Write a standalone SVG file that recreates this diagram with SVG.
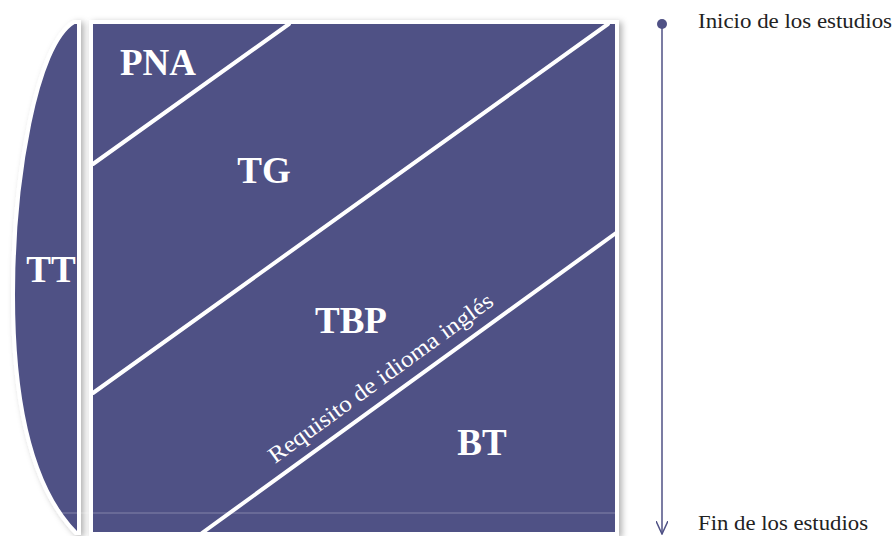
<svg xmlns="http://www.w3.org/2000/svg" width="895" height="536" viewBox="0 0 895 536">
  <style>
    .fill { fill: #4F5185; stroke: #ffffff; stroke-width: 4; }
    .div { stroke: #ffffff; stroke-width: 4; stroke-linecap: round; fill: none; }
    .lbl { font-family: "Liberation Serif", "Times New Roman", serif; font-weight: bold; fill: #ffffff; font-size: 37px; }
    .note { font-family: "Liberation Serif", "Times New Roman", serif; fill: #222222; font-size: 21px; }
    .req { font-family: "Liberation Serif", "Times New Roman", serif; fill: #ffffff; font-size: 23px; }
    .tl { stroke: #4F5185; stroke-width: 1.5; fill: none; }
  </style>
  <defs>
    <filter id="sh" x="-10%" y="-10%" width="125%" height="125%">
      <feDropShadow dx="3" dy="2" stdDeviation="3" flood-color="#000000" flood-opacity="0.3"/>
    </filter>
    <marker id="arr" viewBox="0 0 14 12" refX="13" refY="6" markerWidth="14" markerHeight="12" markerUnits="userSpaceOnUse" orient="auto">
      <path d="M0,0 L13,6 L0,12" fill="none" stroke="#4F5185" stroke-width="1.5"/>
    </marker>
  </defs>

  <g id="tt">
    <path class="fill" filter="url(#sh)" d="M79,22 L74,22 C 36,44 13,180 13,295 C 13,410 34,490 76,533 L79,533 Z"/>
    <text class="lbl" x="51" y="282" text-anchor="middle">TT</text>
  </g>

  <g id="panel">
    <rect class="fill" filter="url(#sh)" x="91" y="22" width="526" height="512"/>
    <line x1="13" y1="513" x2="615" y2="513" stroke="#ffffff" stroke-opacity="0.3" stroke-width="1"/>
  </g>

  <g id="dividers">
    <line class="div" x1="93" y1="164" x2="289" y2="24"/>
    <line class="div" x1="93" y1="393" x2="608" y2="24"/>
    <line class="div" x1="202" y1="533" x2="616" y2="233"/>
  </g>

  <g id="pna"><text class="lbl" x="158" y="75" text-anchor="middle">PNA</text></g>
  <g id="tg"><text class="lbl" x="264" y="183" text-anchor="middle">TG</text></g>
  <g id="tbp"><text class="lbl" x="351" y="333" text-anchor="middle">TBP</text></g>
  <g id="bt"><text class="lbl" x="482" y="455" text-anchor="middle">BT</text></g>
  <g id="req">
    <text class="req" transform="translate(275,464) rotate(-36)" textLength="272" lengthAdjust="spacingAndGlyphs">Requisito de idioma inglés</text>
  </g>

  <g id="connectors">
    <line class="tl" x1="662" y1="24" x2="662" y2="534" marker-end="url(#arr)"/>
  </g>

  <g id="timeline">
    <circle cx="662" cy="24" r="5" fill="#4F5185"/>
    <text class="note" x="698" y="28" textLength="194" lengthAdjust="spacingAndGlyphs">Inicio de los estudios</text>
    <text class="note" x="698" y="530" textLength="170" lengthAdjust="spacingAndGlyphs">Fin de los estudios</text>
  </g>
</svg>
